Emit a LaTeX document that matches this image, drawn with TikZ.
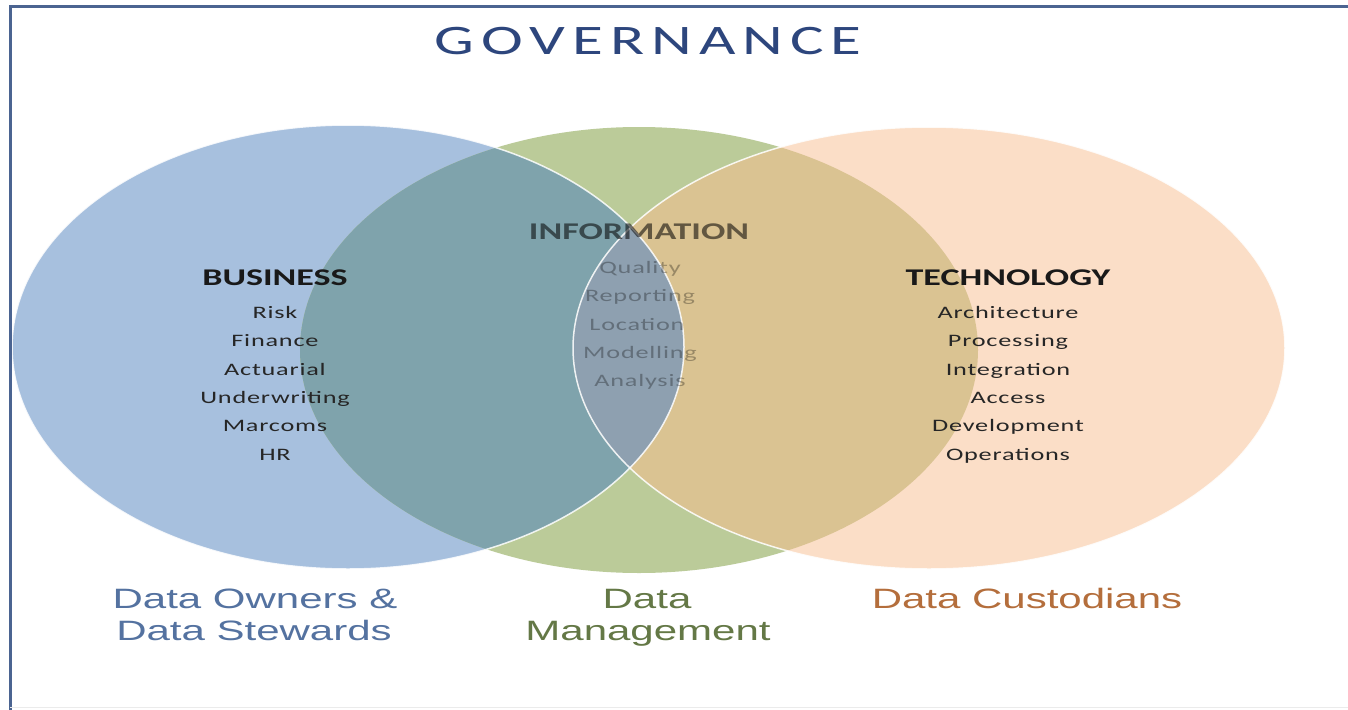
\documentclass[tikz,border=0pt]{standalone}
\usepackage{fontspec}
\setmainfont{Carlito}
\newfontfamily\wideface[FakeStretch=1.5]{Carlito}
\newfontfamily\wideitem[FakeStretch=1.5,LetterSpace=4.5]{Carlito}
\newfontfamily\widearial[FakeStretch=1.5]{Liberation Sans}

\definecolor{bluefill}{RGB}{167,192,222}
\definecolor{greenfill}{RGB}{187,203,153}
\definecolor{orangefill}{RGB}{251,222,199}
\definecolor{tealfill}{RGB}{127,163,172}
\definecolor{tanfill}{RGB}{218,195,146}
\definecolor{lensfill}{RGB}{142,160,176}
\definecolor{govblue}{RGB}{45,70,125}
\definecolor{framecol}{RGB}{75,100,145}
\definecolor{ownerblue}{RGB}{84,114,160}
\definecolor{mgmtgreen}{RGB}{100,120,70}
\definecolor{custbrown}{RGB}{180,110,60}

\def\blueshape{(348,347) ellipse [x radius=336pt, y radius=222pt]}
\def\greenshape{(639,350) ellipse [x radius=339pt, y radius=223pt]}
\def\orangeshape{(929,348) ellipse [x radius=356pt, y radius=221pt]}

\begin{document}
\begin{tikzpicture}[x=1pt,y=-1pt,
	title/.style={font=\wideface\fontsize{42}{48}\selectfont, text=govblue, anchor=base, inner sep=0pt},
	head/.style={font=\wideface\bfseries\fontsize{24}{28}\selectfont, text=black!90, anchor=base, inner sep=0pt},
	item/.style={font=\wideitem\fontsize{17.5}{20}\selectfont, text=black!85, anchor=base, inner sep=0pt},
	faint/.style={text=black, text opacity=0.3},
	role/.style={font=\widearial\fontsize{28}{32}\selectfont, anchor=base, inner sep=0pt},
	venn edge/.style={draw=white, line width=1.5pt, opacity=0.85}]
	\useasboundingbox (0,0) rectangle (1348,709);
	\fill[white] (0,0) rectangle (1348,709);
	
	\fill[bluefill] \blueshape;
	\fill[greenfill] \greenshape;
	\fill[orangefill] \orangeshape;
	\begin{scope}
		\clip \blueshape;
		\fill[tealfill] \greenshape;
	\end{scope}
	\begin{scope}
		\clip \orangeshape;
		\fill[tanfill] \greenshape;
	\end{scope}
	\begin{scope}
		\clip \blueshape;
		\fill[lensfill] \orangeshape;
	\end{scope}
	\path[venn edge] \blueshape;
	\path[venn edge] \orangeshape;
	
	\draw[framecol, line width=3pt] (10,1348) -- (10,7) -- (1348,7);
	\draw[black!8, line width=1pt] (10,707) -- (1348,707);
	
	\node[title] (governance) at (648,55) {G\,O\,V\,E\,R\,N\,A\,N\,C\,E};
	
	\node[head] (business) at (275,285) {BUSINESS};
	\node[item] (risk) at (275,318) {Risk};
	\node[item] (finance) at (275,346.5) {Finance};
	\node[item] (actuarial) at (275,375) {Actuarial};
	\node[item] (underwriting) at (275,403) {Underwriting};
	\node[item] (marcoms) at (275,431.5) {Marcoms};
	\node[item] (hr) at (275,460) {HR};
	
	\node[head, faint, text opacity=0.55] (information) at (639,239) {INFORMATION};
	\node[item, faint] (quality) at (640,273) {Quality};
	\node[item, faint] (reporting) at (640,301.5) {Reporting};
	\node[item, faint] (location) at (637,330) {Location};
	\node[item, faint] (modelling) at (640,358) {Modelling};
	\node[item, faint] (analysis) at (640,386) {Analysis};
	
	\node[head] (technology) at (1008,285) {TECHNOLOGY};
	\node[item] (architecture) at (1008,318) {Architecture};
	\node[item] (processing) at (1008,346.5) {Processing};
	\node[item] (integration) at (1008,375) {Integration};
	\node[item] (access) at (1008,403) {Access};
	\node[item] (development) at (1008,431.5) {Development};
	\node[item] (operations) at (1008,460) {Operations};
	
	\node[role, text=ownerblue] (owners) at (255,608) {Data Owners \&};
	\node[role, text=ownerblue] (stewards) at (254,640) {Data Stewards};
	\node[role, text=mgmtgreen] (datamgmt) at (647,608) {Data};
	\node[role, text=mgmtgreen] (management) at (648,640) {Management};
	\node[role, text=custbrown] (custodians) at (1027,608) {Data Custodians};
\end{tikzpicture}
\end{document}
